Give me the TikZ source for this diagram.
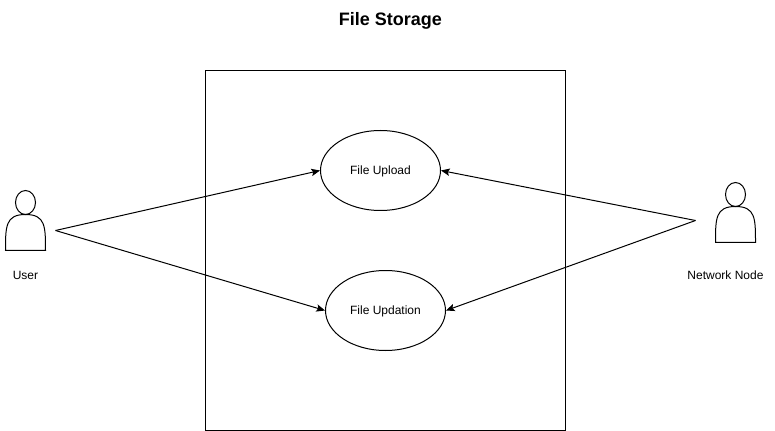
\documentclass[tikz,border=0pt]{standalone}
\usepackage{fontspec}
\setmainfont{Liberation Sans}
\usetikzlibrary{arrows.meta,shapes.geometric}
\tikzset{
  usecase/.style={draw,ellipse,minimum width=90pt,minimum height=60pt,inner sep=0pt,line width=0.75pt,text height=6.5pt,text depth=1pt,font=\fontsize{9}{11}\selectfont},
  label/.style={inner sep=0.75pt,font=\fontsize{9}{11}\selectfont},
  link/.style={line width=0.75pt,-{Stealth[length=6.5pt,width=5.5pt,inset=1.3pt]}},
  pics/actor/.style={code={
    \draw [line width=0.75pt] (0,60) .. controls (0,36) and (0,24) .. (20,24) .. controls (40,24) and (40,36) .. (40,60) -- cycle;
    \draw [line width=0.75pt] (20,12) ellipse [x radius=10,y radius=12];
  }}
}
\begin{document}
\begin{tikzpicture}[x=0.75pt,y=0.75pt,yscale=-1,xscale=1]
\useasboundingbox (0,0) rectangle (775,431);

% system box
\draw [line width=0.75pt] (205.5,70.5) rectangle (565.5,430.5);

% actors
\pic [transform shape] at (5.5,190.5) {actor};
\pic [transform shape] at (715.5,182.5) {actor};
\coordinate (userport) at (55.5,230.5);
\coordinate (networkport) at (695.5,220.5);

% use cases
\node [usecase] (upload) at (380.5,170.5) {File Upload};
\node [usecase] (updation) at (385.5,310.5) {File Updation};

% Text Node
\node [font=\fontsize{13.5}{16}\selectfont\bfseries,inner sep=0.75pt] (title) at (390.5,21) {File Storage};
\node [label] (userlabel) at (25.5,275) {User};
\node [label] (networklabel) at (725.5,275) {Network Node};

% connectors
\draw [link] (userport) -- (upload.west);
\draw [link] (userport) -- (updation.west);
\draw [link] (networkport) -- (upload.east);
\draw [link] (networkport) -- (updation.east);
\end{tikzpicture}
\end{document}
